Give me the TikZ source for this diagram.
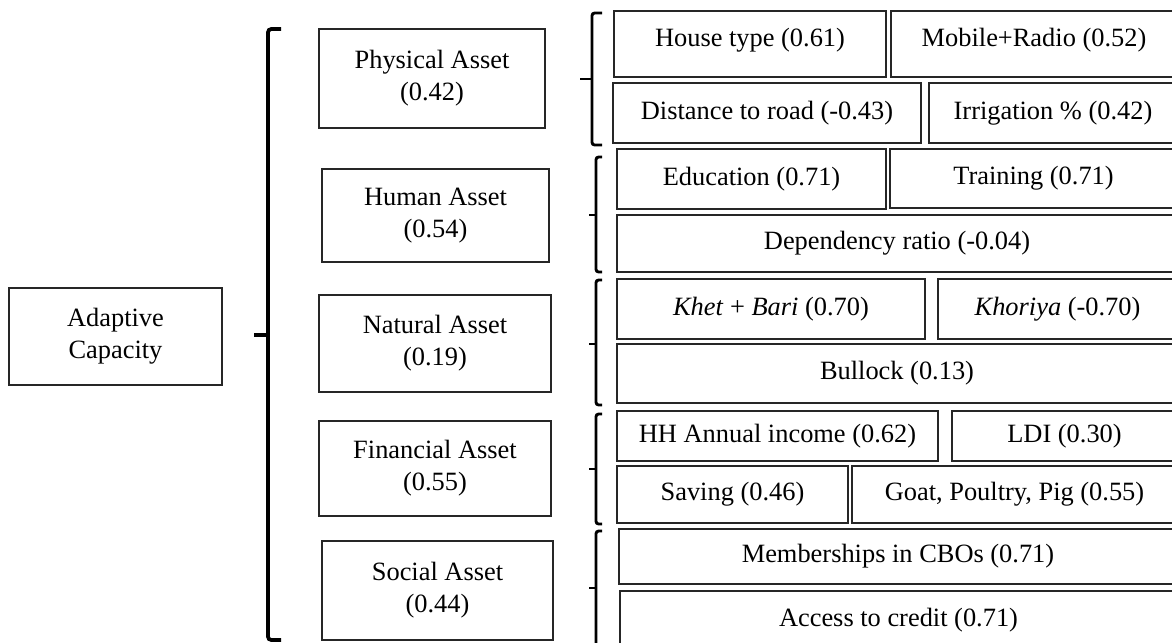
\documentclass[tikz,border=0pt]{standalone}
\usepackage{fontspec}
\setmainfont{Liberation Serif}
\newcommand{\uptext}[2]{\raisebox{#1}{\begin{tabular}{@{}c@{}}#2\end{tabular}}}
\tikzset{
  box/.style={draw=black!85, line width=0.6pt, rectangle, inner sep=0pt,
    font=\fontsize{12}{14.5}\selectfont},
  bracket/.style={draw=black, line width=1.3pt, rounded corners=1.2pt},
  bigbracket/.style={draw=black, line width=1.7pt, rounded corners=1.5pt}
}
% name, x1, y1, x2, y2 (pixels), raise, text
\newcommand{\pbox}[7]{%
  \node[box, minimum width={(#4-#2)*0.4545pt}, minimum height={(#5-#3)*0.4545pt}]
    (#1) at ({(#2+#4)/2},{(#3+#5)/2}) {\uptext{#6}{#7}};}
\begin{document}
\begin{tikzpicture}[x=0.4545pt,y=-0.4545pt]
\useasboundingbox (0,0) rectangle (1172,642);
\clip (0,0) rectangle (1172,642);

% root
\pbox{ac}{9}{288}{222}{385}{10.5pt}{Adaptive\\Capacity}

% assets
\pbox{pa}{319}{29}{545}{128}{9.5pt}{Physical Asset\\(0.42)}
\pbox{ha}{322}{169}{549}{262}{6pt}{Human Asset\\(0.54)}
\pbox{na}{319}{295}{551}{392}{9.5pt}{Natural Asset\\(0.19)}
\pbox{fa}{319}{421}{551}{516}{8pt}{Financial Asset\\(0.55)}
\pbox{sa}{322}{541}{553}{640}{9.5pt}{Social Asset\\(0.44)}

% indicators
\pbox{house}{614}{11}{886}{77}{7.7pt}{House type (0.61)}
\pbox{mobile}{891}{11}{1177}{77}{7.7pt}{Mobile+Radio (0.52)}
\pbox{dist}{613}{83}{921}{143}{3pt}{Distance to road (-0.43)}
\pbox{irr}{929}{83}{1177}{143}{3pt}{Irrigation \% (0.42)}
\pbox{edu}{617}{149}{886}{209}{3pt}{Education (0.71)}
\pbox{train}{890}{149}{1177}{208}{5pt}{Training (0.71)}
\pbox{dep}{617}{215}{1177}{272}{0pt}{Dependency ratio (-0.04)}
\pbox{khet}{617}{279}{925}{339}{2.1pt}{\textit{Khet} + \textit{Bari} (0.70)}
\pbox{khor}{938}{279}{1177}{339}{2.1pt}{\textit{Khoriya} (-0.70)}
\pbox{bull}{617}{344}{1177}{403}{2.9pt}{Bullock (0.13)}
\pbox{hh}{617}{411}{938}{461}{-1.7pt}{HH Annual income (0.62)}
\pbox{ldi}{952}{411}{1177}{461}{-1.7pt}{LDI (0.30)}
\pbox{sav}{617}{466}{848}{523}{0pt}{Saving (0.46)}
\pbox{goat}{852}{466}{1177}{523}{0pt}{Goat, Poultry, Pig (0.55)}
\pbox{mem}{619}{529}{1177}{584}{-2.6pt}{Memberships in CBOs (0.71)}
\pbox{acc}{620}{591}{1177}{655}{6.8pt}{Access to credit (0.71)}

% big bracket
\draw[bigbracket] (281,29) -- (268,29) -- (268,640) -- (281,640);
\draw[bigbracket] (268,335) -- (254,335);

% right brackets
\draw[bracket] (602,13) -- (592,13) -- (592,145) -- (602,145);
\draw[bracket] (592,79) -- (580,79);
\draw[bracket] (602,157) -- (596,157) -- (596,272) -- (602,272);
\draw[bracket] (596,215) -- (589,215);
\draw[bracket] (602,280) -- (596,280) -- (596,405) -- (602,405);
\draw[bracket] (596,344) -- (589,344);
\draw[bracket] (602,414) -- (596,414) -- (596,524) -- (602,524);
\draw[bracket] (596,469) -- (589,469);
\draw[bracket] (602,531) -- (596,531) -- (596,660) -- (602,660);
\draw[bracket] (596,588) -- (589,588);
\end{tikzpicture}
\end{document}
